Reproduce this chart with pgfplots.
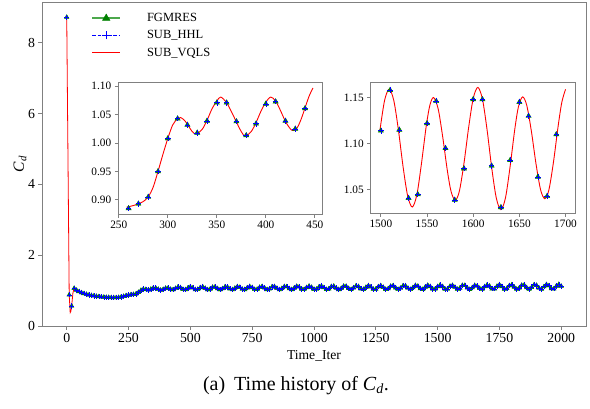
\documentclass[border=0pt]{standalone}
\usepackage{fontspec}
\setmainfont{Liberation Serif}
\usepackage{pgfplots}
\pgfplotsset{compat=1.18}
\usepackage{pgfplotstable}

\definecolor{mplgreen}{rgb}{0,0.5,0}
\definecolor{lgreen}{rgb}{0.3,0.66,0.3}
\definecolor{framegray}{gray}{0.5}

\pgfplotstableread{
it cd
0 8.72
10 0.88
20 0.565
30 1.065
40 1.01
50 0.97
60 0.94
70 0.915
80 0.895
90 0.876
100 0.862
110 0.850
120 0.840
130 0.830
140 0.822
150 0.815
160 0.810
170 0.806
180 0.803
190 0.801
200 0.801
210 0.807
220 0.820
230 0.838
240 0.858
250 0.874
260 0.885
270 0.893
280 0.905
290 0.950
300 1.008
310 1.043
320 1.032
330 1.018
340 1.039
350 1.071
360 1.071
370 1.038
380 1.0135
390 1.034
400 1.069
410 1.073
420 1.039
430 1.025
440 1.061
450 1.1014
460 1.0827
470 1.0340
480 1.0276
490 1.0727
500 1.1052
510 1.0750
520 1.0286
530 1.0345
540 1.0842
550 1.1063
560 1.0661
570 1.0250
580 1.0439
590 1.0947
600 1.1047
610 1.0567
620 1.0239
630 1.0548
640 1.1038
650 1.1004
660 1.0480
670 1.0257
680 1.0672
690 1.1106
700 1.0938
710 1.0394
720 1.0302
730 1.0800
740 1.1149
750 1.0850
760 1.0329
770 1.0375
780 1.0926
790 1.1161
800 1.0750
810 1.0284
820 1.0474
830 1.1042
840 1.1145
850 1.0646
860 1.0269
870 1.0595
880 1.1142
890 1.1100
900 1.0540
910 1.0283
920 1.0728
930 1.1219
940 1.1029
950 1.0449
960 1.0329
970 1.0869
980 1.1268
990 1.0936
1000 1.0372
1010 1.0403
1020 1.1007
1030 1.1284
1040 1.0829
1050 1.0321
1060 1.0512
1070 1.1135
1080 1.1268
1090 1.0715
1100 1.0298
1110 1.0639
1120 1.1247
1130 1.1221
1140 1.0603
1150 1.0309
1160 1.0783
1170 1.1332
1180 1.1143
1190 1.0500
1200 1.0356
1210 1.0935
1220 1.1387
1230 1.1042
1240 1.0411
1250 1.0432
1260 1.1086
1270 1.1407
1280 1.0925
1290 1.0353
1300 1.0547
1310 1.1228
1320 1.1393
1330 1.0800
1340 1.0324
1350 1.0682
1360 1.1348
1370 1.1342
1380 1.0676
1390 1.0331
1400 1.0836
1410 1.1444
1420 1.1262
1430 1.0561
1440 1.0374
1450 1.0999
1460 1.1506
1470 1.1150
1480 1.0461
1490 1.0455
1500 1.114
1510 1.158
1520 1.115
1530 1.041
1540 1.045
1550 1.122
1560 1.146
1570 1.095
1580 1.039
1590 1.073
1600 1.148
1610 1.148
1620 1.076
1630 1.031
1640 1.082
1650 1.145
1660 1.130
1670 1.064
1680 1.043
1690 1.110
1700 1.1590
1710 1.1263
1720 1.0509
1730 1.0481
1740 1.1216
1750 1.1651
1760 1.1124
1770 1.0430
1780 1.0599
1790 1.1378
1800 1.1640
1810 1.0975
1820 1.0387
1830 1.0746
1840 1.1522
1850 1.1588
1860 1.0825
1870 1.0383
1880 1.0916
1890 1.1636
1900 1.1498
1910 1.0686
1920 1.0422
1930 1.1100
1940 1.1714
1950 1.1375
1960 1.0567
1970 1.0506
1980 1.1285
1990 1.1750
2000 1.1228
}\maindata

\pgfplotstableread{
it cd
258 0.887
265 0.890
270 0.893
275 0.897
280 0.905
285 0.922
290 0.950
295 0.980
300 1.008
305 1.032
310 1.043
313 1.045
317 1.040
320 1.033
325 1.020
329 1.016
335 1.024
340 1.040
345 1.060
350 1.074
354 1.081
360 1.071
365 1.055
370 1.037
375 1.020
379 1.012
385 1.020
390 1.036
395 1.056
400 1.072
405 1.081
410 1.074
415 1.057
420 1.038
425 1.025
428 1.022
432 1.027
436 1.042
440 1.062
444 1.082
448 1.097
}\insetA

\pgfplotstableread{
it cd
1499 1.1145
1504 1.1467
1509 1.1590
1514 1.1468
1519 1.1149
1524 1.0754
1529 1.0435
1534 1.0313
1539 1.0446
1544 1.0786
1549 1.1180
1553 1.1413
1557 1.1500
1562 1.1380
1567 1.1072
1572 1.0708
1576 1.0483
1580.5 1.0385
1585 1.0484
1590 1.0786
1595 1.1171
1600 1.1489
1605 1.1610
1610 1.1483
1615 1.1152
1620 1.0742
1625 1.0411
1630 1.0284
1635 1.0415
1640 1.0754
1645 1.1153
1649 1.1400
1653.5 1.1507
1658 1.1415
1663 1.1135
1668 1.0782
1673 1.0499
1677.6 1.0403
1682 1.0500
1687 1.0805
1692 1.1191
1696 1.1450
1700 1.1589
}\insetB

\pgfplotsset{
  mplstyle/.style={
    scale only axis,
    anchor=south west,
    tick align=outside,
    tick pos=left,
    major tick length=3.5pt,
    axis line style={framegray, line width=0.8pt},
    tick style={framegray, line width=0.8pt},
    /pgf/number format/assume math mode=true,
    /pgf/number format/set thousands separator={},
    scaled ticks=false,
  },
}

\begin{document}
\begin{tikzpicture}
\path[use as bounding box] (0pt,0pt) rectangle (590pt,408pt);

\begin{axis}[mplstyle,
  at={(42pt,82pt)}, width=544pt, height=324pt,
  xmin=-100, xmax=2100, ymin=0, ymax=9.15,
  xtick={0,250,...,2000}, ytick={0,2,4,6,8},
  tick label style={font=\fontsize{13.8}{15}\selectfont},
  xlabel={Time\_Iter},
  xlabel style={font=\fontsize{13.6}{15}\selectfont, at={(axis description cs:0.5,-0.092)}, anchor=center},
  ylabel={\textit{C}\textsubscript{\textit{d}}},
  ylabel style={font=\fontsize{15.5}{16}\selectfont, at={(axis description cs:-0.0404,0.5)}, anchor=center},
  legend style={draw=none, fill=none, at={(axis description cs:0.085,0.978)}, anchor=north west,
    font=\fontsize{12.5}{15}\selectfont, row sep=3.5pt},
  legend cell align=left,
]
\addplot[only marks, mark=triangle*, mark size=2.6pt, mark options={fill=mplgreen, draw=mplgreen}, forget plot]
  table[x=it, y=cd]{\maindata};
\addplot[only marks, mark=+, mark size=2.6pt, blue, mark options={line width=0.6pt}, forget plot]
  table[x=it, y=cd]{\maindata};
\addplot[red, line width=0.8pt, forget plot] coordinates {
  (0,8.72) (10,0.88) (14,0.38) (17,0.42) (20,0.565) (25,0.93) (30,1.065) (40,1.01)};
\addplot[red, line width=0.8pt, forget plot]
  table[x=it, y=cd, restrict x to domain=40:2000]{\maindata};

\addlegendimage{legend image code/.code={
  \draw[lgreen, line width=1.6pt] (0pt,0pt) -- (28pt,0pt);
  \fill[mplgreen] (14pt,4.2pt) -- (10.3pt,-2.1pt) -- (17.7pt,-2.1pt) -- cycle;
}}
\addlegendentry{\hspace{24pt}FGMRES}
\addlegendimage{legend image code/.code={
  \draw[blue, line width=1.1pt, dash pattern=on 3.5pt off 1.8pt] (0pt,0pt) -- (28pt,0pt);
  \draw[blue, line width=1.1pt] (10pt,0pt) -- (18pt,0pt) (14pt,-4pt) -- (14pt,4pt);
}}
\addlegendentry{\hspace{24pt}SUB\_HHL}
\addlegendimage{legend image code/.code={
  \draw[red, line width=1.2pt] (0pt,0pt) -- (28pt,0pt);
}}
\addlegendentry{\hspace{24pt}SUB\_VQLS}
\end{axis}

\begin{axis}[mplstyle,
  at={(118.3pt,194pt)}, width=204.4pt, height=131.7pt,
  axis background/.style={fill=white},
  xmin=249.5, xmax=458, ymin=0.875, ymax=1.107,
  xtick={250,300,350,400,450}, ytick={0.90,0.95,1.00,1.05,1.10},
  tick label style={font=\fontsize{11.3}{13}\selectfont},
  yticklabel style={/pgf/number format/fixed, /pgf/number format/fixed zerofill, /pgf/number format/precision=2},
]
\addplot[red, line width=0.9pt, smooth] table[x=it, y=cd]{\insetA};
\addplot[only marks, mark=triangle*, mark size=3pt, mark options={fill=mplgreen, draw=mplgreen}]
  table[x=it, y=cd, restrict x to domain=255:445]{\maindata};
\addplot[only marks, mark=+, mark size=2.8pt, blue, mark options={line width=0.6pt}]
  table[x=it, y=cd, restrict x to domain=255:445]{\maindata};
\end{axis}

\begin{axis}[mplstyle,
  at={(370.7pt,194.7pt)}, width=205pt, height=131pt,
  axis background/.style={fill=white},
  xmin=1489, xmax=1711, ymin=1.0245, ymax=1.1665,
  xtick={1500,1550,1600,1650,1700}, ytick={1.05,1.10,1.15},
  tick label style={font=\fontsize{11.3}{13}\selectfont},
  yticklabel style={/pgf/number format/fixed, /pgf/number format/fixed zerofill, /pgf/number format/precision=2},
]
\addplot[red, line width=0.9pt, smooth] table[x=it, y=cd]{\insetB};
\addplot[only marks, mark=triangle*, mark size=3pt, mark options={fill=mplgreen, draw=mplgreen}]
  table[x=it, y=cd, restrict x to domain=1495:1695]{\maindata};
\addplot[only marks, mark=+, mark size=2.8pt, blue, mark options={line width=0.6pt}]
  table[x=it, y=cd, restrict x to domain=1495:1695]{\maindata};
\end{axis}

\node[font=\fontsize{20}{22}\selectfont] at (296pt,22pt)
  {(a)\hspace{0.45em}Time history of \textit{C}\textsubscript{\textit{d}}.};
\end{tikzpicture}
\end{document}
